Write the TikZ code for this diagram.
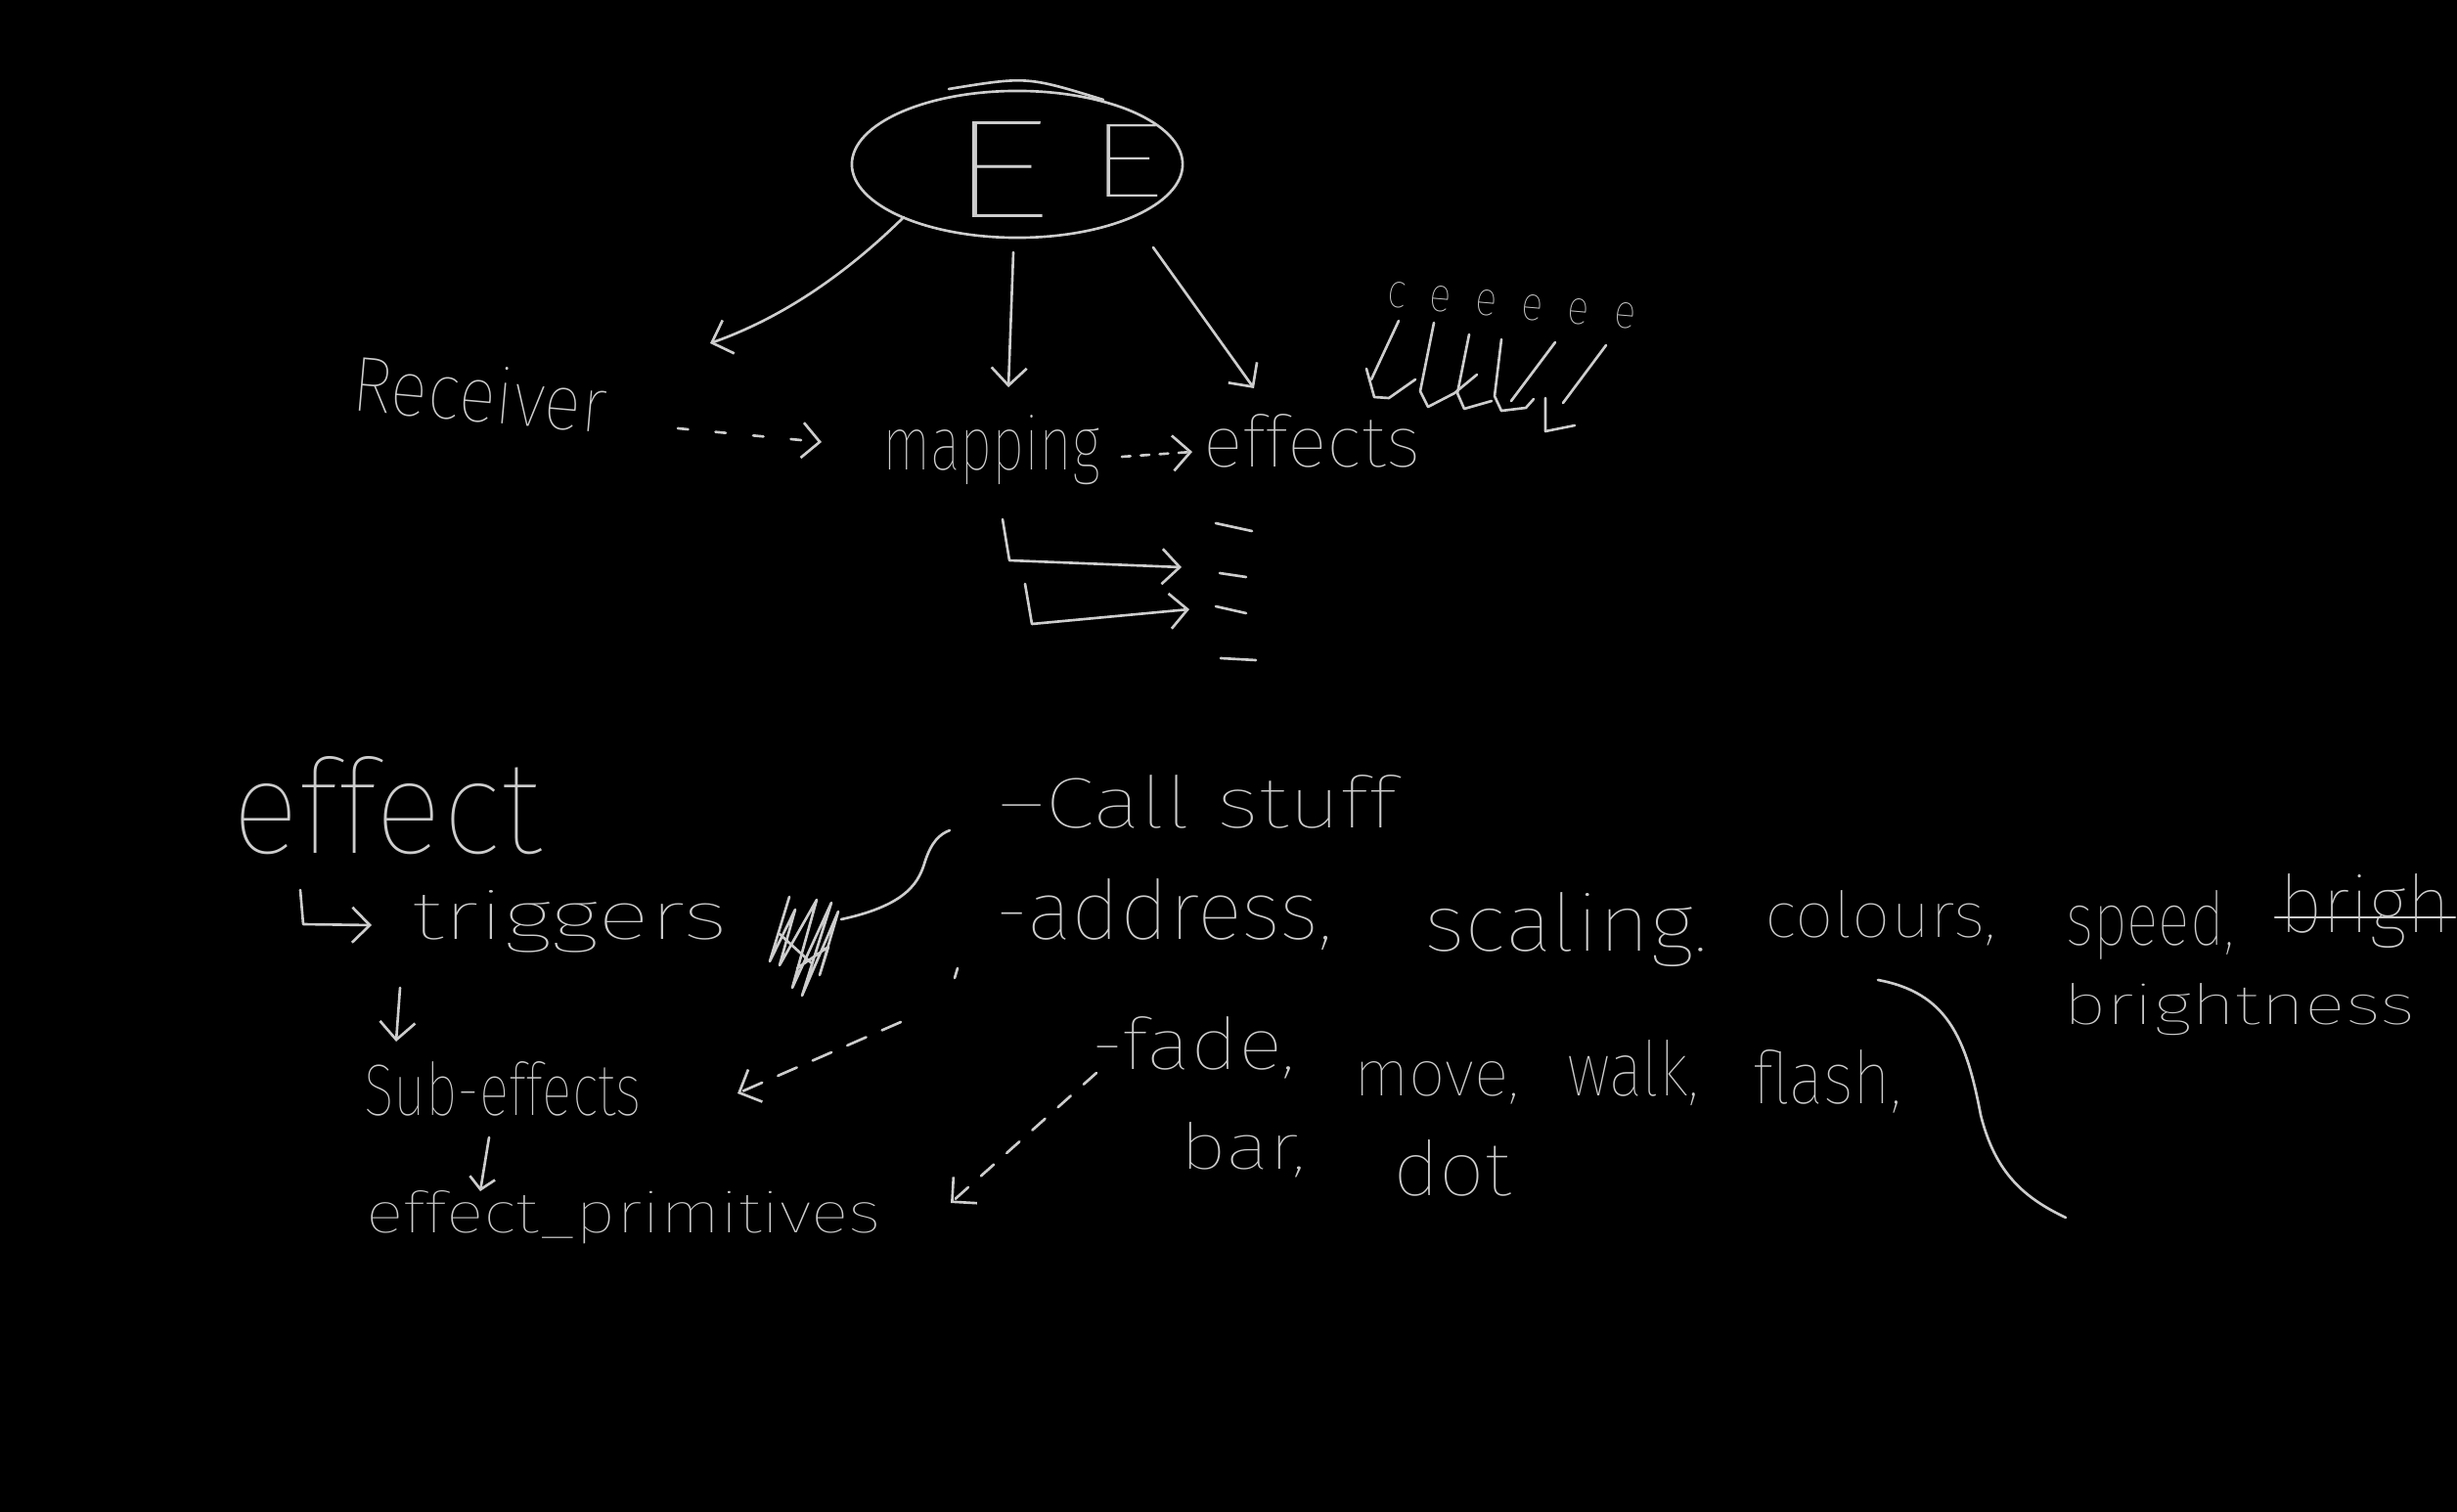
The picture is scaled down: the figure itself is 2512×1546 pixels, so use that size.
\documentclass[tikz,border=0pt]{standalone}
\usepackage{fontspec}
\usepackage{graphicx}
\usetikzlibrary{arrows.meta,shapes.geometric}
\IfFontExistsTF{Fira Sans Thin}{\setmainfont{Fira Sans Thin}}{\IfFontExistsTF{Fira Sans Light}{\setmainfont{Fira Sans Light}}{\setmainfont{Fira Sans}}}
\newlength\pxu
\setlength\pxu{0.01cm}
\newcommand{\hw}[3]{\resizebox{#1\pxu}{#2\pxu}{#3}}
\definecolor{ink}{RGB}{205,205,205}
\tikzset{
  pen/.style={draw=ink, line width=0.75pt, line cap=round, line join=round},
  arr/.style={pen, -{Straight Barb[length=1.8mm,width=3.6mm]}},
  sarr/.style={pen, -{Straight Barb[length=1.2mm,width=2.6mm]}},
  lbl/.style={text=ink, inner sep=0pt, outer sep=0pt, anchor=base west},
}
\begin{document}
\begin{tikzpicture}[x=0.01cm,y=-0.01cm]
\fill[black] (0,0) rectangle (2512,1546);
\useasboundingbox (0,0) rectangle (2512,1546);

% ---------- EE ----------
\node (ell) [draw=ink, line width=0.75pt, ellipse, minimum width=3.38cm, minimum height=1.5cm, inner sep=0pt] at (1040,168) {};
\draw[pen] (970,91) .. controls (1050,78) .. (1128,102);
\node (e1) [lbl] at (967,223) {\hw{108}{98}{E}};
\node (e2) [lbl] at (1112,202) {\hw{78}{74}{E}};

% ---------- top labels ----------
\node (rec) [lbl, rotate=-5] at (358,420) {\hw{261}{58}{Receiver}};
\node (map) [lbl] at (902,481) {\hw{223}{56}{mapping}};
\node (eff) [lbl] at (1230,477) {\hw{222}{54}{effects}};
\node (ees) [lbl, rotate=-5] at (1417,314) {\hw{255}{26}{\addfontfeature{LetterSpace=60}ceeeee}};

% ---------- top connectors ----------
\coordinate (p1) at (924,222); \coordinate (p2) at (726,351);
\draw[arr] (p1) .. controls (865,280) and (800,325) .. (p2);
\coordinate (p3) at (1036,258); \coordinate (p4) at (1031,396);
\draw[arr] (p3) -- (p4);
\coordinate (p5) at (1179,253); \coordinate (p6) at (1282,397);
\draw[arr] (p5) -- (p6);
\coordinate (p7) at (693,438); \coordinate (p8) at (840,452);
\draw[arr, dash pattern=on 3pt off 8pt] (p7) -- (p8);
\coordinate (p9) at (1147,467); \coordinate (p10) at (1219,462);
\draw[arr, dash pattern=on 2.5pt off 3pt] (p9) -- (p10);

% mapping -> list
\coordinate (m1) at (1025,531); \coordinate (m1c) at (1032,573); \coordinate (m1e) at (1208,580);
\draw[arr] (m1) -- (m1c) -- (m1e);
\coordinate (m2) at (1048,597); \coordinate (m2c) at (1055,638); \coordinate (m2e) at (1216,623);
\draw[arr] (m2) -- (m2c) -- (m2e);
\draw[pen] (1243,535) -- (1280,543);
\draw[pen] (1247,586) -- (1274,590);
\draw[pen] (1243,620) -- (1274,627);
\draw[pen] (1248,673) -- (1284,675);

% squiggles under eeeee
\draw[pen] (1397,377) -- (1405,406) -- (1420,407) -- (1447,388);
\draw[pen] (1430,328) -- (1402,388);
\draw[pen] (1466,330) -- (1452,400) -- (1460,416) -- (1487,402) -- (1510,383);
\draw[pen] (1502,342) -- (1490,402) -- (1497,418) -- (1525,410);
\draw[pen] (1535,347) -- (1528,405) -- (1535,420) -- (1560,417) -- (1568,408);
\draw[pen] (1590,350) -- (1545,410);
\draw[pen] (1642,353) -- (1598,412);
\draw[pen] (1580,407) -- (1580,441) -- (1610,435);

% ---------- bottom labels ----------
\node (effect) [lbl] at (237,872) {\hw{317}{99}{effect}};
\node (trig) [lbl] at (421,960) {\hw{323}{50}{triggers}};
\node (sub) [lbl] at (372,1140) {\hw{284}{55}{Sub-effects}};
\node (prim) [lbl] at (374,1260) {\hw{527}{43}{effect\_primitives}};
\node (call) [lbl] at (1020,846) {\hw{408}{54}{–Call stuff}};
\node (addr) [lbl] at (1017,960) {\hw{345}{62}{-address,}};
\node (scal) [lbl] at (1456,972) {\hw{290}{60}{scaling.}};
\node (col) [lbl] at (1804,958) {\hw{237}{48}{colours,}};
\node (speed) [lbl] at (2112,966) {\hw{172}{56}{speed,}};
\node (brg) [lbl] at (2330,953) {\hw{176}{60}{brigh}};
\draw[pen] (2326,938) -- (2510,938);
\node (brness) [lbl] at (2109,1047) {\hw{360}{42}{brightness}};
\node (fade) [lbl] at (1115,1093) {\hw{209}{54}{-fade,}};
\node (move) [lbl] at (1384,1120) {\hw{169}{35}{move,}};
\node (walk) [lbl] at (1602,1120) {\hw{135}{57}{walk,}};
\node (flash) [lbl] at (1792,1128) {\hw{152}{55}{flash,}};
\node (bar) [lbl] at (1206,1195) {\hw{129}{48}{bar,}};
\node (dot) [lbl] at (1424,1222) {\hw{121}{57}{dot}};

% ---------- bottom connectors ----------
\coordinate (l1) at (307,910); \coordinate (l2) at (310,945); \coordinate (l3) at (380,946);
\draw[arr] (l1) -- (l2) -- (l3);
\coordinate (d1) at (409,1010); \coordinate (d2) at (405,1065);
\draw[arr] (d1) -- (d2);
\coordinate (s1) at (500,1163); \coordinate (s2) at (491,1218);
\draw[sarr] (s1) -- (s2);
% scribble
\draw[pen] (807,917) -- (787,983) -- (813,930) -- (797,987) -- (835,920) -- (810,1010) -- (850,923) -- (820,1018) -- (857,932) -- (838,997) -- (847,968) -- (815,990);
\draw[pen] (797,955) -- (830,985);
\coordinate (c1) at (860,940); \coordinate (c2) at (971,849);
\draw[pen] (c1) .. controls (930,925) and (940,900) .. (946,880) .. controls (952,862) and (960,853) .. (c2);
\draw[pen] (979,990) -- (976,1000);
\coordinate (q1) at (921,1045); \coordinate (q2) at (754,1118);
\draw[arr, dash pattern=on 6pt off 5pt] (q1) -- (q2);
\coordinate (r1) at (1121,1097); \coordinate (r2) at (972,1230);
\draw[arr, dash pattern=on 5pt off 5pt] (r1) -- (r2);
\coordinate (k1) at (1920,1002); \coordinate (k2) at (2112,1245);
\draw[pen] (k1) .. controls (1990,1015) and (2010,1060) .. (2025,1140) .. controls (2040,1200) and (2070,1225) .. (k2);
\end{tikzpicture}
\end{document}
